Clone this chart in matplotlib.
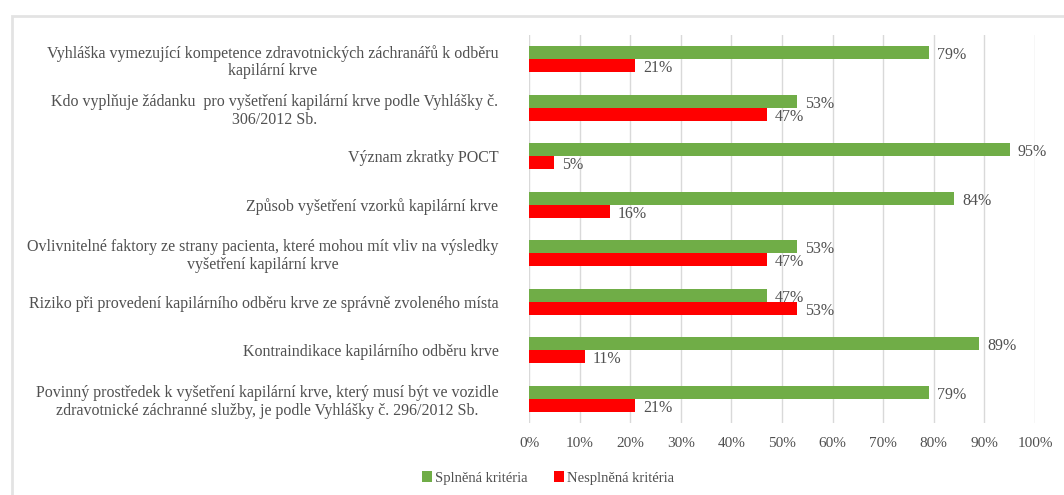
import numpy as np
import matplotlib.pyplot as plt
from matplotlib.patches import Rectangle

plt.rcParams['font.family'] = ['Liberation Serif', 'DejaVu Serif']

questions = [
    'Vyhláška vymezující kompetence zdravotnických záchranářů k odběru\nkapilární krve',
    'Kdo vyplňuje žádanku  pro vyšetření kapilární krve podle Vyhlášky č.\n306/2012 Sb.',
    'Význam zkratky POCT',
    'Způsob vyšetření vzorků kapilární krve',
    'Ovlivnitelné faktory ze strany pacienta, které mohou mít vliv na výsledky\nvyšetření kapilární krve',
    'Riziko při provedení kapilárního odběru krve ze správně zvoleného místa',
    'Kontraindikace kapilárního odběru krve',
    'Povinný prostředek k vyšetření kapilární krve, který musí být ve vozidle\nzdravotnické záchranné služby, je podle Vyhlášky č. 296/2012 Sb.',
]
splnena = [79, 53, 95, 84, 53, 47, 89, 79]
nesplnena = [21, 47, 5, 16, 47, 53, 11, 21]
xticks = np.arange(0, 101, 10)

green = '#70AD47'
red = '#FF0000'
txt = '#505050'

fig = plt.figure(figsize=(10.64, 4.95), dpi=100)
ax = fig.add_axes([529 / 1064, 1 - 423 / 495, (1035 - 529) / 1064, (423 - 35) / 495])

y = np.arange(len(questions))
h = 0.27
ax.barh(y - h / 2, splnena, height=h, color=green, label='Splněná kritéria')
ax.barh(y + h / 2, nesplnena, height=h, color=red, label='Nesplněná kritéria')

for i in range(len(questions)):
    ax.text(splnena[i] + 1.6, y[i] - h / 2 + 0.05, f'{splnena[i]}%', va='center', ha='left',
            fontsize=11.5, color=txt)
    ax.text(nesplnena[i] + 1.6, y[i] + h / 2 + 0.05, f'{nesplnena[i]}%', va='center', ha='left',
            fontsize=11.5, color=txt)

ax.set_xlim(0, 100)
ax.set_ylim(len(questions) - 0.5, -0.5)
ax.set_xticks(xticks)
ax.set_xticklabels([f'{t}%' for t in xticks], fontsize=11, color=txt)
ax.set_yticks(y)
ax.set_yticklabels(questions, fontsize=11.5, color=txt, linespacing=1.15)
for lab in ax.get_yticklabels():
    lab.set_multialignment('center')
ax.tick_params(length=0)
ax.tick_params(axis='y', pad=22)
ax.tick_params(axis='x', pad=10)
ax.grid(axis='x', color='#d9d9d9', lw=1)
ax.set_axisbelow(True)
for s in ax.spines.values():
    s.set_visible(False)

fig.legend(loc='center', bbox_to_anchor=(548 / 1064, 1 - 478 / 495), ncol=2, frameon=False,
           fontsize=10.5, labelcolor=txt, handlelength=0.7, handleheight=0.7, handletextpad=0.2,
           columnspacing=1.8)

# light frame round the chart area
fig.patches.append(Rectangle((12 / 1064, -0.05), 1.1, 1 - 16 / 495 + 0.05, transform=fig.transFigure,
                             fill=False, edgecolor='#e3e3e3', lw=2))

fig.savefig('out.png', dpi=100)
